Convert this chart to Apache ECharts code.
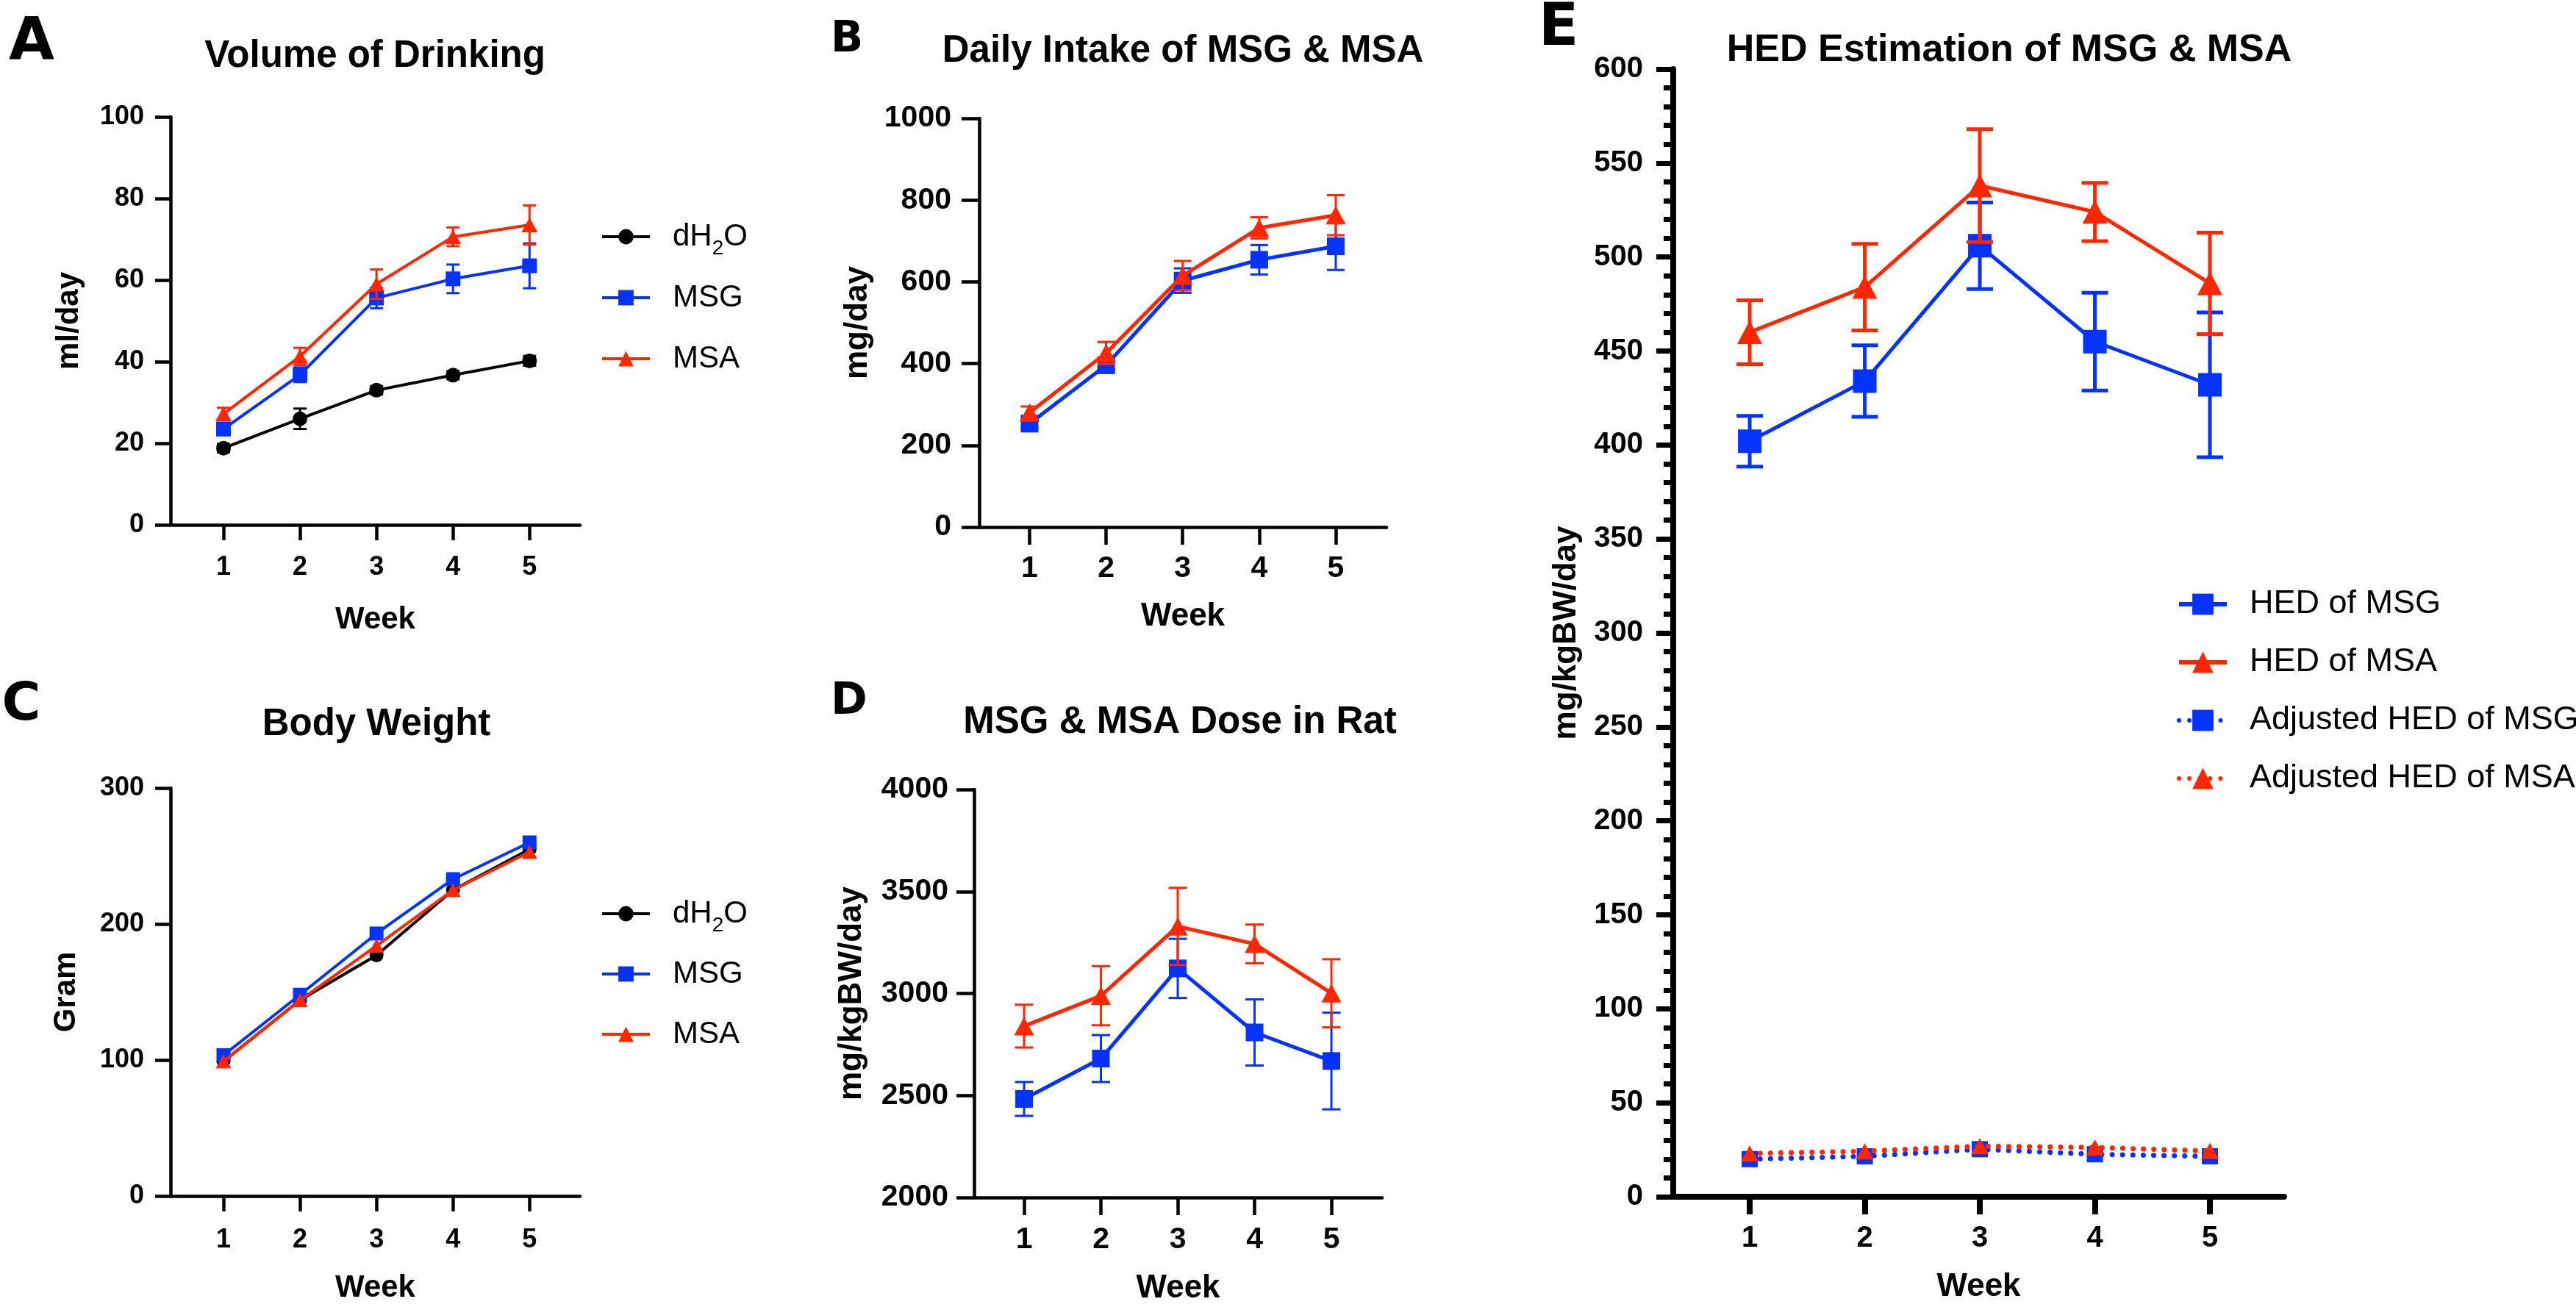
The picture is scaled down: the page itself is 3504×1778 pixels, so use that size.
<!DOCTYPE html>
<html>
<head>
<meta charset="utf-8">
<title>MSG & MSA</title>
<script src="https://cdn.jsdelivr.net/npm/echarts@6/dist/echarts.min.js"></script>
<style>
  html, body { margin: 0; padding: 0; background: #fff; }
  #chart { width: 3504px; height: 1778px; }
</style>
</head>
<body>
<div id="chart"></div>
<script>
// weeks shared by every panel
const weeks = [1, 2, 3, 4, 5]

// A - volume of drinking (ml/day)
const drinkWater = [18.8, 26, 33, 36.7, 40.2]
const drinkWaterErr = [1, 2.5, 1, 1, 1.2]
const drinkMSG = [23.5, 36.8, 55.6, 60.3, 63.5]
const drinkMSGErr = [1.5, 1.8, 2.5, 3.5, 5.5]
const drinkMSA = [27.2, 41.3, 59, 70.6, 73.5]
const drinkMSAErr = [1.5, 2.1, 3.6, 2.3, 4.8]

// B - daily intake (mg/day)
const intakeMSG = [253, 396, 603, 654, 687]
const intakeMSGErr = [10, 12, 30, 36, 58]
const intakeMSA = [280, 426, 615, 732, 763]
const intakeMSAErr = [15, 27, 36, 26, 49]

// C - body weight (gram)
const bwWater = [99, 144, 177, 225, 255]
const bwMSG = [103.5, 148, 193, 233, 260]
const bwMSA = [99, 144, 184, 225, 253]

// D - dose in rat (mg/kgBW/day)
const doseMSG = [2483, 2681, 3123, 2809, 2669]
const doseMSGErr = [83, 115, 145, 162, 237]
const doseMSA = [2840, 2989, 3329, 3243, 3001]
const doseMSAErr = [105, 145, 189, 95, 167]

// E - HED estimation (mg/kgBW/day)
const hedMSG = [402, 434, 506, 455, 432]
const hedMSGErr = [13.5, 19, 23, 26, 38.5]
const hedMSA = [460, 484, 538, 524, 486]
const hedMSAErr = [17, 23, 30, 15.5, 27]
const adjMSG = [20, 21.5, 25.3, 22.6, 21.5]
const adjMSA = [23, 24.2, 26.9, 26.2, 24.3]

const FONT = '"Liberation Sans", Arial, Helvetica, sans-serif'
const BLUE = '#0433ff'
const RED = '#ff2600'
const BLACK = '#000000'

const pairs = (vals) => weeks.map((w, i) => [w, vals[i]])
const ranges = (vals, err) => weeks.map((w, i) => [w, vals[i] - err[i], vals[i] + err[i]])

function makeXAxis(g, o) {
  return {
    gridIndex: g, type: 'value', min: o.min, max: o.max,
    name: 'Week', nameLocation: 'middle', nameGap: o.nameGap,
    nameTextStyle: { fontFamily: FONT, fontWeight: 'bold', fontSize: o.nameSize, color: BLACK },
    axisLine: { show: true, onZero: false, lineStyle: { color: BLACK, width: o.lw } },
    axisTick: { show: true, customValues: weeks, length: o.tick, lineStyle: { color: BLACK, width: o.lw } },
    axisLabel: { customValues: weeks, fontFamily: FONT, fontWeight: 'bold', fontSize: o.labelSize, margin: o.margin, color: BLACK },
    splitLine: { show: false }
  }
}

function makeYAxis(g, o) {
  return {
    gridIndex: g, type: 'value', min: o.min, max: o.max, interval: o.interval,
    name: o.name, nameLocation: 'middle', nameGap: o.nameGap, nameRotate: 90,
    nameTextStyle: { fontFamily: FONT, fontWeight: 'bold', fontSize: o.nameSize, color: BLACK },
    axisLine: { show: true, onZero: false, lineStyle: { color: BLACK, width: o.lw } },
    axisTick: { show: true, length: o.tick, lineStyle: { color: BLACK, width: o.tickW || o.lw } },
    minorTick: o.minor
      ? { show: true, splitNumber: 5, length: o.minor, lineStyle: { color: BLACK, width: o.tickW || o.lw } }
      : { show: false },
    axisLabel: {
      fontFamily: FONT, fontWeight: 'bold', fontSize: o.labelSize, margin: o.margin, color: BLACK,
      formatter: (v) => String(v) // no thousands separator
    },
    splitLine: { show: false }
  }
}

function lineSeries(name, g, vals, o) {
  return {
    name: name, type: 'line', xAxisIndex: g, yAxisIndex: g,
    data: pairs(vals), z: o.z,
    symbol: o.symbol, symbolSize: o.size,
    itemStyle: { color: o.color },
    lineStyle: { color: o.color, width: o.width, type: o.dash || 'solid', cap: o.dash ? 'round' : 'butt' },
    emphasis: { disabled: true }
  }
}

function errSeries(name, g, vals, err, o) {
  return {
    name: name, type: 'custom', xAxisIndex: g, yAxisIndex: g, z: o.z,
    data: ranges(vals, err),
    encode: { x: 0, y: [1, 2] },
    renderItem: function (params, api) {
      const lo = api.coord([api.value(0), api.value(1)])
      const hi = api.coord([api.value(0), api.value(2)])
      const half = o.cap / 2
      const st = { stroke: o.color, lineWidth: o.width }
      return {
        type: 'group',
        children: [
          { type: 'line', shape: { x1: lo[0], y1: lo[1], x2: hi[0], y2: hi[1] }, style: st },
          { type: 'line', shape: { x1: lo[0] - half, y1: lo[1], x2: lo[0] + half, y2: lo[1] }, style: st },
          { type: 'line', shape: { x1: hi[0] - half, y1: hi[1], x2: hi[0] + half, y2: hi[1] }, style: st }
        ]
      }
    }
  }
}

function label(text, x, y, size, family) {
  return {
    type: 'text', x: x, y: y, silent: true,
    style: {
      text: text, fill: BLACK, align: 'center', verticalAlign: 'middle',
      font: 'bold ' + size + 'px ' + (family || FONT)
    }
  }
}

const legendText = (size, lh) => ({
  fontFamily: FONT, fontSize: size, color: BLACK, lineHeight: lh, padding: [0, 0, 0, 26],
  rich: { sub: { fontFamily: FONT, fontSize: 28, lineHeight: 26, verticalAlign: 'bottom', color: BLACK } }
})

const chart = echarts.init(document.getElementById('chart'))

chart.setOption({
  backgroundColor: '#ffffff',
  animation: false,
  grid: [
    { left: 232, top: 159, width: 557, height: 555 },   // A
    { left: 1332, top: 161, width: 554, height: 556 },  // B
    { left: 232, top: 1072, width: 557, height: 555 },  // C
    { left: 1325, top: 1074, width: 555, height: 555 }, // D
    { left: 2276, top: 94, width: 831, height: 1536 }   // E
  ],
  xAxis: [
    makeXAxis(0, { min: 0.308, max: 5.66, lw: 4.5, tick: 21, labelSize: 36, margin: 40, nameSize: 42, nameGap: 108 }),
    makeXAxis(1, { min: 0.342, max: 5.663, lw: 4.5, tick: 24, labelSize: 41, margin: 36, nameSize: 44, nameGap: 100 }),
    makeXAxis(2, { min: 0.308, max: 5.66, lw: 4.5, tick: 21, labelSize: 36, margin: 42, nameSize: 42, nameGap: 104 }),
    makeXAxis(3, { min: 0.349, max: 5.66, lw: 4.5, tick: 24, labelSize: 41, margin: 37, nameSize: 44, nameGap: 102 }),
    makeXAxis(4, { min: 0.335, max: 5.645, lw: 8, tick: 24, labelSize: 40, margin: 37, nameSize: 44, nameGap: 101 })
  ],
  yAxis: [
    makeYAxis(0, { min: 0, max: 100, interval: 20, name: 'ml/day', lw: 4.5, tick: 21, labelSize: 36, margin: 36, nameSize: 42, nameGap: 117 }),
    makeYAxis(1, { min: 0, max: 1000, interval: 200, name: 'mg/day', lw: 4.5, tick: 24, labelSize: 41, margin: 38, nameSize: 44, nameGap: 143 }),
    makeYAxis(2, { min: 0, max: 300, interval: 100, name: 'Gram', lw: 4.5, tick: 21, labelSize: 36, margin: 36, nameSize: 42, nameGap: 121 }),
    makeYAxis(3, { min: 2000, max: 4000, interval: 500, name: 'mg/kgBW/day', lw: 4.5, tick: 24, labelSize: 41, margin: 35, nameSize: 44, nameGap: 144 }),
    makeYAxis(4, { min: 0, max: 600, interval: 50, name: 'mg/kgBW/day', lw: 8, tickW: 7, tick: 23, minor: 13, labelSize: 40, margin: 41, nameSize: 44, nameGap: 123 })
  ],
  legend: [
    {
      orient: 'vertical', left: 812, top: 287, itemWidth: 65, itemHeight: 26, itemGap: 23,
      selectedMode: false, data: ['dH2O', 'MSG', 'MSA'],
      lineStyle: { width: 4 },
      formatter: (n) => n === 'dH2O' ? 'dH{sub|2}O' : n,
      textStyle: legendText(42, 60)
    },
    {
      orient: 'vertical', left: 812, top: 1208, itemWidth: 65, itemHeight: 26, itemGap: 22,
      selectedMode: false, data: ['dH2O', 'MSG', 'MSA'],
      lineStyle: { width: 4 },
      formatter: (n) => n === 'dH2O' ? 'dH{sub|2}O' : n,
      textStyle: legendText(42, 60)
    },
    {
      orient: 'vertical', left: 2956, top: 789, itemWidth: 65, itemHeight: 36, itemGap: 23,
      selectedMode: false,
      lineStyle: { width: 6 },
      data: ['HED of MSG', 'HED of MSA', 'Adjusted HED of MSG', 'Adjusted HED of MSA'],
      textStyle: legendText(45, 56)
    }
  ],
  graphic: [
    label('A', 43, 60, 80, '"DejaVu Sans"'),
    label('B', 1152, 55, 58, '"DejaVu Sans"'),
    label('C', 29, 960, 72, '"DejaVu Sans"'),
    label('D', 1155, 955, 60, '"DejaVu Sans"'),
    label('E', 2120, 40, 80, '"DejaVu Sans"'),
    label('Volume of Drinking', 510, 77, 51),
    label('Daily Intake of MSG & MSA', 1609, 70, 51),
    label('Body Weight', 512, 986, 51),
    label('MSG & MSA Dose in Rat', 1605, 983, 51),
    label('HED Estimation of MSG & MSA', 2733, 69, 52)
  ],
  series: [
    // A
    errSeries('errA0', 0, drinkWater, drinkWaterErr, { color: BLACK, width: 3, cap: 18, z: 2 }),
    lineSeries('dH2O', 0, drinkWater, { color: BLACK, symbol: 'circle', size: 20, width: 4, z: 3 }),
    errSeries('errA1', 0, drinkMSG, drinkMSGErr, { color: BLUE, width: 3, cap: 18, z: 4 }),
    lineSeries('MSG', 0, drinkMSG, { color: BLUE, symbol: 'rect', size: 20, width: 4, z: 5 }),
    errSeries('errA2', 0, drinkMSA, drinkMSAErr, { color: RED, width: 3, cap: 18, z: 6 }),
    lineSeries('MSA', 0, drinkMSA, { color: RED, symbol: 'triangle', size: [22, 20], width: 4, z: 7 }),
    // B
    errSeries('errB1', 1, intakeMSG, intakeMSGErr, { color: BLUE, width: 3, cap: 24, z: 4 }),
    lineSeries('Intake MSG', 1, intakeMSG, { color: BLUE, symbol: 'rect', size: 24, width: 5, z: 5 }),
    errSeries('errB2', 1, intakeMSA, intakeMSAErr, { color: RED, width: 3, cap: 24, z: 6 }),
    lineSeries('Intake MSA', 1, intakeMSA, { color: RED, symbol: 'triangle', size: [27, 25], width: 5, z: 7 }),
    // C
    lineSeries('dH2O', 2, bwWater, { color: BLACK, symbol: 'circle', size: 19, width: 4, z: 3 }),
    lineSeries('MSG', 2, bwMSG, { color: BLUE, symbol: 'rect', size: 19, width: 4, z: 5 }),
    lineSeries('MSA', 2, bwMSA, { color: RED, symbol: 'triangle', size: [21, 19], width: 4, z: 7 }),
    // D
    errSeries('errD1', 3, doseMSG, doseMSGErr, { color: BLUE, width: 3, cap: 25, z: 4 }),
    lineSeries('Dose MSG', 3, doseMSG, { color: BLUE, symbol: 'rect', size: 24, width: 5, z: 5 }),
    errSeries('errD2', 3, doseMSA, doseMSAErr, { color: RED, width: 3, cap: 25, z: 6 }),
    lineSeries('Dose MSA', 3, doseMSA, { color: RED, symbol: 'triangle', size: [27, 25], width: 5, z: 7 }),
    // E
    errSeries('errE1', 4, hedMSG, hedMSGErr, { color: BLUE, width: 5, cap: 36, z: 4 }),
    lineSeries('HED of MSG', 4, hedMSG, { color: BLUE, symbol: 'rect', size: 32, width: 5, z: 5 }),
    errSeries('errE2', 4, hedMSA, hedMSAErr, { color: RED, width: 5, cap: 36, z: 6 }),
    lineSeries('HED of MSA', 4, hedMSA, { color: RED, symbol: 'triangle', size: [34, 32], width: 5, z: 7 }),
    lineSeries('Adjusted HED of MSG', 4, adjMSG, { color: BLUE, symbol: 'rect', size: 22, width: 7, dash: [0.1, 14], z: 8 }),
    lineSeries('Adjusted HED of MSA', 4, adjMSA, { color: RED, symbol: 'triangle', size: [24, 22], width: 7, dash: [0.1, 14], z: 9 })
  ]
})
</script>
</body>
</html>
